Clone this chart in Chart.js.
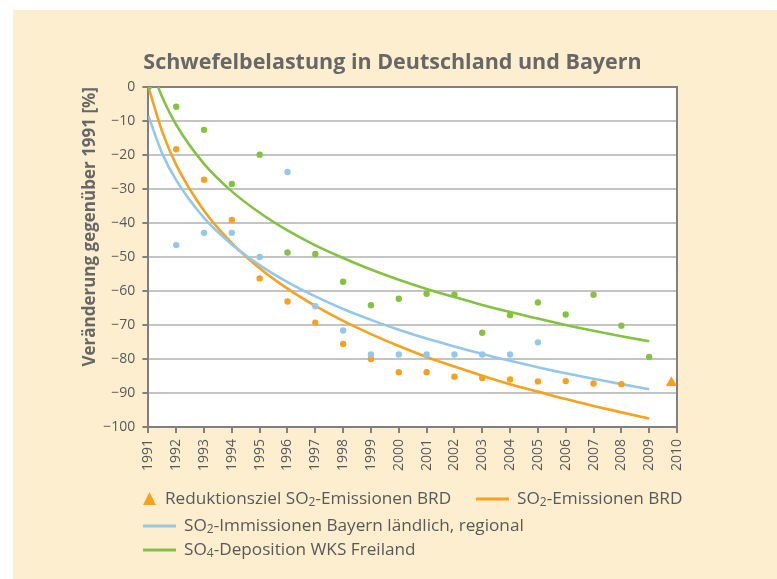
<!DOCTYPE html>
<html>
<head>
<meta charset="utf-8">
<script src="https://cdn.jsdelivr.net/npm/chart.js@4.4.1/dist/chart.umd.min.js"></script>
<style>
body { margin: 0; background: #fff; }
canvas { display: block; }
</style>
</head>
<body>
<canvas id="myChart" width="777" height="579"></canvas>
<script>
// measured values, change vs. 1991 in %
var years = [1991, 1992, 1993, 1994, 1995, 1996, 1997, 1998, 1999, 2000,
             2001, 2002, 2003, 2004, 2005, 2006, 2007, 2008, 2009];
var emiBRD = [0, -18.3, -27.3, -39.1, -56.3, -63.1, -69.3, -75.6, -80.0, -83.9,
              -83.9, -85.2, -85.6, -86.0, -86.6, -86.5, -87.2, -87.4];
var immBayern = [0, -46.5, -42.9, -42.9, -50.0, -25.0, -64.5, -71.6, -78.7, -78.7,
                 -78.7, -78.7, -78.7, -78.7, -75.1];
var depWKS = [0, -5.8, -12.6, -28.5, -19.9, -48.7, -49.1, -57.3, -64.2, -62.3,
              -60.8, -61.1, -72.3, -67.1, -63.4, -66.9, -61.1, -70.2, -79.4];

// reduction target
var targetYear = [2009.8];
var targetValue = [-87];

// trend curves
var trendYears = [1991, 1991.5, 1992, 1993, 1994, 1995, 1996, 1997, 1998, 1999, 2000,
                  2001, 2002, 2003, 2004, 2005, 2006, 2007, 2008, 2009];
var emiTrend = [0, -13.2, -22.9, -36.4, -45.9, -53.3, -59.3, -64.4, -68.8, -72.7, -76.2,
                -79.4, -82.2, -84.9, -87.4, -89.6, -91.8, -93.8, -95.7, -97.5];
var immTrend = [-8.5, -19.6, -27.4, -38.5, -46.3, -52.4, -57.4, -61.6, -65.3, -68.5, -71.4,
                -74.0, -76.3, -78.5, -80.5, -82.4, -84.2, -85.8, -87.4, -88.9];
var depTrendYears = [1991.35, 1991.5, 1992, 1993, 1994, 1995, 1996, 1997, 1998, 1999, 2000,
                     2001, 2002, 2003, 2004, 2005, 2006, 2007, 2008, 2009];
var depTrend = [0, -3.0, -11.1, -22.6, -30.7, -37.0, -42.2, -46.6, -50.3, -53.7, -56.7,
                -59.4, -61.8, -64.1, -66.2, -68.1, -70.0, -71.7, -73.3, -74.8];

var orange = 'rgb(248, 161, 28)';
var blue = 'rgb(148, 199, 234)';
var green = 'rgb(132, 194, 66)';
var textColor = '#595959';
var fontFamily = '"Open Sans", "Noto Sans", sans-serif';

function toPoints(xs, ys) {
    return ys.map(function(v, i) { return {x: xs[i], y: v}; });
}

function dots(label, xs, ys, color) {
    return {
        label: label,
        data: toPoints(xs, ys),
        backgroundColor: color,
        borderWidth: 0,
        pointRadius: 3.2,
        showLine: false
    };
}

function trend(label, xs, ys, color) {
    return {
        label: label,
        data: toPoints(xs, ys),
        borderColor: color,
        backgroundColor: color,
        borderWidth: 2.6,
        pointRadius: 0,
        showLine: true,
        cubicInterpolationMode: 'monotone'
    };
}

// draws text, "_2" becomes a subscript 2
function drawRichText(ctx, text, x, y) {
    var parts = text.split(/_(\d)/);
    parts.forEach(function(part, i) {
        if (i % 2 === 1) {
            ctx.font = '12px ' + fontFamily;
            ctx.fillText(part, x, y + 4);
        } else {
            ctx.font = '17.2px ' + fontFamily;
            ctx.fillText(part, x, y);
        }
        x += ctx.measureText(part).width;
    });
}

var backgroundPlugin = {
    id: 'background',
    beforeDraw: function(chart) {
        var ctx = chart.ctx;
        var area = chart.chartArea;
        ctx.save();
        ctx.fillStyle = '#ffffff';
        ctx.fillRect(0, 0, chart.width, chart.height);
        ctx.fillStyle = 'rgb(253, 238, 207)';
        ctx.fillRect(13, 10, chart.width - 13, chart.height - 10);
        ctx.fillStyle = '#ffffff';
        ctx.fillRect(area.left, area.top, area.right - area.left, area.bottom - area.top);
        ctx.restore();
    },
    beforeDatasetsDraw: function(chart) {
        var ctx = chart.ctx;
        var area = chart.chartArea;
        ctx.save();
        ctx.strokeStyle = '#808080';
        ctx.lineWidth = 2;
        ctx.beginPath();
        ctx.moveTo(area.left, area.top);
        ctx.lineTo(area.right, area.top);
        ctx.lineTo(area.right, area.bottom);
        ctx.stroke();
        ctx.restore();
    }
};

// legend with fixed rows like the original
var legendRows = [
    {ds: 0, x: 143, y: 499},
    {ds: 6, x: 476, y: 499},
    {ds: 5, x: 143, y: 526},
    {ds: 4, x: 143, y: 550}
];

var legendPlugin = {
    id: 'rowLegend',
    afterDraw: function(chart) {
        var ctx = chart.ctx;
        ctx.save();
        ctx.textBaseline = 'middle';
        legendRows.forEach(function(row) {
            var ds = chart.data.datasets[row.ds];
            var textX;
            if (ds.pointStyle === 'triangle') {
                ctx.fillStyle = ds.backgroundColor;
                ctx.beginPath();
                ctx.moveTo(row.x + 6.5, row.y - 7);
                ctx.lineTo(row.x + 13, row.y + 6);
                ctx.lineTo(row.x, row.y + 6);
                ctx.closePath();
                ctx.fill();
                textX = row.x + 22;
            } else {
                ctx.strokeStyle = ds.borderColor;
                ctx.lineWidth = 3;
                ctx.beginPath();
                ctx.moveTo(row.x, row.y);
                ctx.lineTo(row.x + 33, row.y);
                ctx.stroke();
                textX = row.x + 41;
            }
            ctx.fillStyle = textColor;
            drawRichText(ctx, ds.label, textX, row.y);
        });
        ctx.restore();
    }
};

var ctx = document.getElementById('myChart');
var myChart = new Chart(ctx, {
    type: 'scatter',
    data: {
        datasets: [
            {
                label: 'Reduktionsziel SO_2-Emissionen BRD',
                data: toPoints(targetYear, targetValue),
                pointStyle: 'triangle',
                pointRadius: 6.5,
                backgroundColor: orange,
                borderWidth: 0
            },
            dots('SO_4-Deposition WKS Freiland', years, depWKS, green),
            dots('SO_2-Immissionen Bayern ländlich, regional', years, immBayern, blue),
            dots('SO_2-Emissionen BRD', years, emiBRD, orange),
            trend('SO_4-Deposition WKS Freiland', depTrendYears, depTrend, green),
            trend('SO_2-Immissionen Bayern ländlich, regional', trendYears, immTrend, blue),
            trend('SO_2-Emissionen BRD', trendYears, emiTrend, orange)
        ]
    },
    options: {
        responsive: false,
        animation: false,
        layout: {
            padding: {left: 80, right: 72, top: 38, bottom: 102}
        },
        plugins: {
            legend: {display: false},
            tooltip: {enabled: false},
            title: {
                display: true,
                text: 'Schwefelbelastung in Deutschland und Bayern',
                color: '#676767',
                font: {family: fontFamily, size: 21.5, weight: 'bold'},
                padding: {top: 12, bottom: 11.2}
            }
        },
        scales: {
            x: {
                type: 'linear',
                min: 1991,
                max: 2010,
                ticks: {
                    stepSize: 1,
                    minRotation: 90,
                    maxRotation: 90,
                    color: textColor,
                    font: {family: fontFamily, size: 14},
                    padding: 6,
                    callback: function(value) { return String(value); }
                },
                grid: {
                    drawOnChartArea: false,
                    tickLength: 6,
                    tickColor: '#808080',
                    lineWidth: 2
                },
                border: {color: '#808080', width: 2}
            },
            y: {
                min: -100,
                max: 0,
                ticks: {
                    stepSize: 10,
                    color: textColor,
                    font: {family: fontFamily, size: 14},
                    padding: 7,
                    callback: function(value) {
                        return value < 0 ? '\u2212' + Math.abs(value) : String(value);
                    }
                },
                grid: {
                    color: '#c4c4c4',
                    lineWidth: 2,
                    tickLength: 6,
                    tickColor: '#808080'
                },
                border: {color: '#808080', width: 2},
                title: {
                    display: true,
                    text: 'Veränderung gegenüber 1991 [%]',
                    align: 'end',
                    color: '#676767',
                    font: {family: fontFamily, size: 17, weight: 'bold', lineHeight: 0.75},
                    padding: {top: 3.6, bottom: 0}
                }
            },
            // empty space right of the plot
            spacer: {
                type: 'linear',
                position: 'right',
                display: true,
                ticks: {display: false},
                grid: {display: false},
                border: {display: false},
                afterFit: function(scale) { scale.width = 28; }
            }
        }
    },
    plugins: [backgroundPlugin, legendPlugin]
});
</script>
</body>
</html>
